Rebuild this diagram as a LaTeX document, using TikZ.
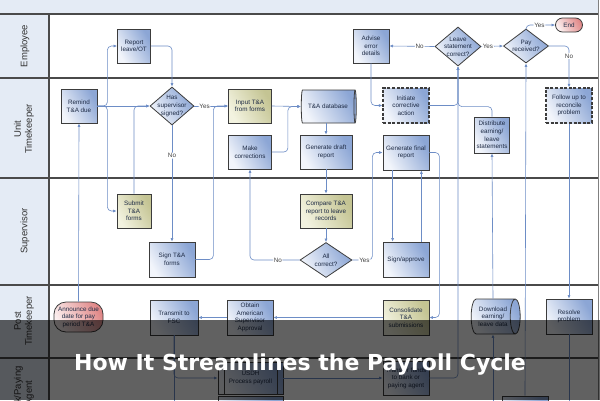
\documentclass[tikz,border=0pt]{standalone}
\usepackage{fontspec}
\setmainfont{Liberation Sans}
\newfontfamily\bannerfont{DejaVu Sans}
\usetikzlibrary{shapes.geometric,arrows.meta,calc}
\definecolor{lanebg}{HTML}{E4EBF5}
\definecolor{laneline}{HTML}{4A4A4A}
\definecolor{conncol}{HTML}{6D8DC6}
\definecolor{bdr}{HTML}{3C3C3C}
\definecolor{bluelt}{HTML}{F2F5FB}
\definecolor{bluedk}{HTML}{8CA6D5}
\definecolor{olivelt}{HTML}{F3F3E0}
\definecolor{olivedk}{HTML}{C4C493}
\definecolor{redlt}{HTML}{FCF1F1}
\definecolor{reddk}{HTML}{E08888}
\definecolor{txt}{HTML}{1E2B45}
\tikzset{
  base/.style={draw=bdr, line width=0.8pt, inner sep=0pt, text=txt, align=center,
    font=\fontsize{6.3}{7.6}\selectfont},
  sz/.style 2 args={minimum width=#1pt, minimum height=#2pt},
  bluebox/.style={base, rectangle, left color=bluelt, right color=bluedk, shading angle=120},
  olivebox/.style={base, rectangle, left color=olivelt, right color=olivedk, shading angle=120},
  dashbox/.style={bluebox, line width=1.3pt, dash pattern=on 3pt off 1.6pt},
  termbox/.style={base, rectangle, left color=redlt, right color=reddk, shading angle=120},
  dia/.style={base, diamond, left color=bluelt, right color=bluedk, shading angle=120},
  dlab/.style={text=txt, align=center, inner sep=0pt, font=\fontsize{6.3}{7.6}\selectfont},
  cyl/.style={base, cylinder, shape border rotate=0, aspect=0.5,
    left color=bluelt, right color=bluedk, shading angle=120},
  conn/.style={draw=conncol, line width=0.6pt, rounded corners=4pt,
    -{Latex[length=3.5pt,width=3pt]}},
  connn/.style={draw=conncol, line width=0.6pt, rounded corners=4pt},
  lbl/.style={fill=white, inner sep=0.8pt, text=black!75, font=\fontsize{6.3}{7}\selectfont},
  lanelab/.style={rotate=90, align=center, text=black!80, font=\fontsize{9.5}{11}\selectfont},
}
\begin{document}
\begin{tikzpicture}[x=1pt,y=-1pt]
\useasboundingbox (0,0) rectangle (600,400);
\clip (0,0) rectangle (600,400);
\fill[white] (0,0) rectangle (600,400);
% lanes
\fill[lanebg] (0,0) rectangle (598,14);
\fill[lanebg] (0,14) rectangle (49,400);
\foreach \yy in {14,78,178,285,358} \draw[laneline, line width=1.1pt] (0,\yy) -- (598,\yy);
\draw[laneline, line width=1.1pt] (49,14) -- (49,400);
\draw[black!50, line width=0.6pt] (598,0) -- (598,400);
\node[lanelab] (lEmp) at (25,46) {Employee};
\node[lanelab] (lUnit) at (24,129) {Unit\\Timekeeper};
\node[lanelab] (lSup) at (25,231) {Supervisor};
\node[lanelab] (lPost) at (24,321) {Post\\Timekeeper};
\node[lanelab] (lBank) at (24,393) {Bank/Paying\\Agent};
\coordinate (bot) at (0,410);
% Employee
\node[bluebox, sz={33}{34}] (report) at (134,46) {Report\\leave/OT};
\node[bluebox, sz={36}{34}] (adv) at (371,46) {Advise\\error\\details};
\node[dia, sz={46}{39}, label={[dlab]center:Leave\\statement\\correct?}] (leave) at (458,46.5) {};
\node[dia, sz={45}{34}, label={[dlab]center:Pay\\received?}] (pay) at (526,46) {};
\node[termbox, sz={27}{14}, rounded corners=7pt] (endn) at (569,25) {End};
% Unit Timekeeper
\node[bluebox, sz={36}{34}] (remind) at (79,106) {Remind\\T\&A due};
\node[dia, sz={44}{38}, label={[dlab]center:Has\\supervisor\\signed?}] (has) at (172,106) {};
\node[olivebox, sz={43}{34}] (input) at (250,106) {Input T\&A\\from forms};
\node[bluebox, sz={43}{34}] (make) at (250,152) {Make\\corrections};
\node[cyl, sz={33}{55}] (db) at (328,106.5) {T\&A database};
\node[bluebox, sz={52}{34}] (draft) at (326,152) {Generate draft\\report};
\node[dashbox, sz={46}{35}] (initiate) at (406,105.5) {Initiate\\corrective\\action};
\node[bluebox, sz={46}{35}] (final) at (406,152.5) {Generate final\\report};
\node[bluebox, sz={35}{36}] (dist) at (492,135) {Distribute\\earning/\\leave\\statements};
\node[dashbox, sz={46}{35}] (follow) at (569,105.5) {Follow up to\\reconcile\\problem};
% Supervisor
\node[olivebox, sz={34}{34}] (submit) at (134,211) {Submit\\T\&A\\forms};
\node[bluebox, sz={46}{35}] (sign) at (172,259.5) {Sign T\&A\\forms};
\node[olivebox, sz={52}{34}] (compare) at (326,211) {Compare T\&A\\report to leave\\records};
\node[dia, sz={52}{35}, label={[dlab]center:All\\correct?}] (allc) at (326,260) {};
\node[bluebox, sz={46}{35}] (signapp) at (406,259.5) {Sign/approve};
% Post Timekeeper
\node[termbox, sz={49}{30}, rounded corners=12pt] (announce) at (78.5,317) {Announce due\\date for pay\\period T\&A};
\node[bluebox, sz={48}{35}] (transmit) at (174,317.5) {Transmit to\\FSC};
\node[bluebox, sz={46}{35}] (obtain) at (250,317.5) {Obtain\\American\\Supervisor\\Approval};
\node[olivebox, sz={46}{35}] (consol) at (406,317.5) {Consolidate\\T\&A\\submissions};
\node[cyl, sz={35}{49}] (download) at (493,316.5) {Download\\earning/\\leave data};
\node[bluebox, sz={46}{35}] (resolve) at (569,316.5) {Resolve\\problem};
% Bank / Paying agent
\node[bluebox, sz={65}{32}] (usdh) at (250.5,378) {USDH\\Process payroll};
\draw[bdr, line width=0.8pt] ([xshift=7pt]usdh.north west) -- ([xshift=7pt]usdh.south west);
\draw[bdr, line width=0.8pt] ([xshift=-6pt]usdh.north east) -- ([xshift=-6pt]usdh.south east);
\node[bluebox, sz={46}{34}] (transfer) at (406,378) {Transfer funds\\to bank or\\paying agent};
\node[bluebox, sz={65}{30}] (below) at (250.5,411) {};
\node[bluebox, sz={46}{30}] (deposit) at (525,411) {};
% connectors
\draw[conn] (remind.east) -- (has.west);
\draw[conn] (remind.east) -- ++(10,0) |- (report.west);
\draw[conn] (remind.east) -- ++(10,0) |- (submit.west);
\draw[conn] (submit.north) |- (has.west);
\draw[conn] (report.east) -| (has.north);
\draw[conn] (has.south) -- node[lbl, pos=0.26]{No} (sign.north);
\draw[conn] (has.east) -- node[lbl, pos=0.3]{Yes} (input.west);
\draw[conn] (sign.east) -- ++(18,0) |- (input.west);
\draw[conn] (input.east) -- (db.west);
\draw[conn] (make.east) -- ++(16,0) |- (db.west);
\draw[conn] (draft.north |- db.south) -- (draft.north);
\draw[conn] (draft.south) -- (compare.north);
\draw[conn] (compare.south) -- (allc.north);
\draw[conn] (allc.west) -| node[lbl, pos=0.22]{No} (make.south);
\draw[conn] (allc.east) -- node[lbl, pos=0.6]{Yes} ++(20,0) |- (final.west);
\draw[conn] ([xshift=10pt]final.south west) -- ([xshift=10pt]signapp.north west);
\draw[conn] ([xshift=-8pt]signapp.north east) -- ([xshift=-8pt]final.south east);
\draw[conn] (final.east) -- ++(10,0) |- (consol.east);
\draw[conn] (consol.west) -- (obtain.east);
\draw[conn] (obtain.west) -- (transmit.east);
\draw[conn] (transmit.south) |- (usdh.west);
\draw[connn] (transmit.south) -- (transmit.south |- bot);
\draw[conn] (usdh.east) -- (transfer.west);
\draw[conn] (transfer.east) -| (leave.south);
\draw[conn] (initiate.east) -| (leave.south);
\draw[conn] (dist.north) -- ++(0,-10) -| (leave.south);
\draw[conn] (download.north) -- (dist.south);
\draw[conn] (download.south |- bot) -- (download.south);
\draw[conn] (deposit.north) -- (pay.south);
\draw[conn] (adv.south) |- (initiate.west);
\draw[conn] (leave.west) -- node[lbl, pos=0.33]{No} (adv.east);
\draw[conn] (leave.east) -- node[lbl, pos=0.3]{Yes} (pay.west);
\draw[conn] (pay.north) |- node[lbl, pos=0.73]{Yes} (endn.west);
\draw[conn] (pay.east) -| node[lbl, pos=0.62]{No} (follow.north);
\draw[conn] (follow.south) -- (resolve.north);
\draw[connn] (resolve.south) -- (resolve.south |- bot);
\draw[conn] (announce.north) -- (remind.south);
% banner
\fill[black, opacity=0.62] (0,320) rectangle (600,400);
\node[anchor=base, text=white, inner sep=0pt, font=\bannerfont\bfseries\fontsize{22}{26}\selectfont] (banner) at (300,370) {How It Streamlines the Payroll Cycle};
\end{tikzpicture}
\end{document}
